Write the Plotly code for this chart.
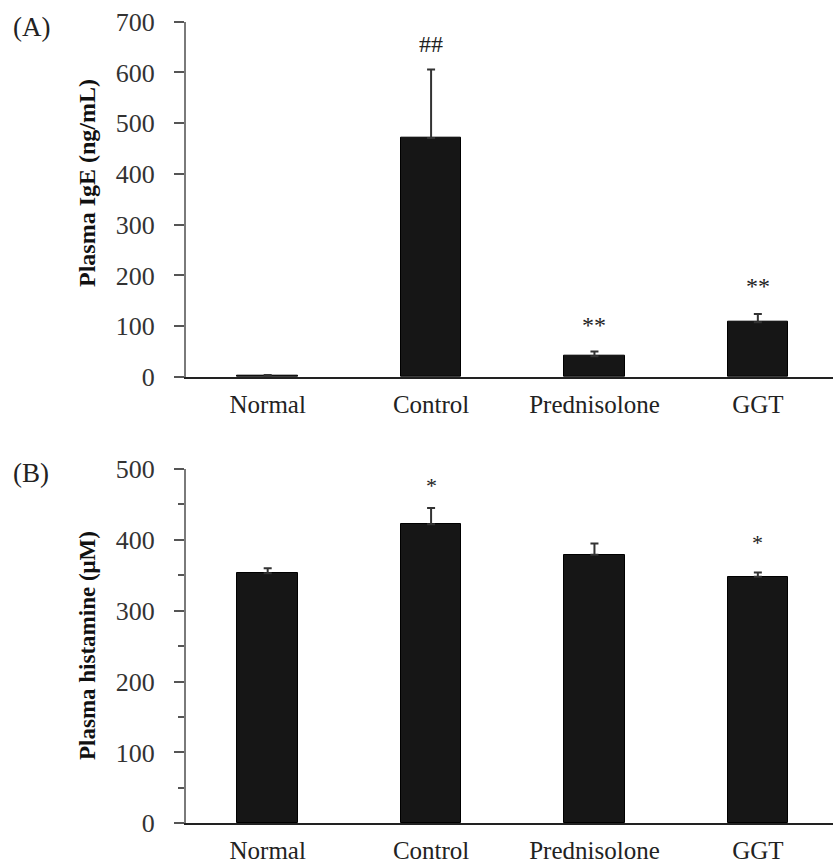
import plotly.graph_objects as go

groups = ["Normal", "Control", "Prednisolone", "GGT"]
ige_mean = [3, 471, 41, 108]
ige_err = [1, 135, 9, 16]
ige_marks = ["", "##", "**", "**"]
ige_mark_y = [0, 657, 102, 179]

hist_mean = [353, 422, 379, 348]
hist_err = [7, 23, 16, 6]
hist_marks = ["", "*", "", "*"]
hist_mark_y = [0, 477, 0, 396]

W, H = 833, 863
FONT = "Liberation Serif"
BAR = "#161616"

fig = go.Figure()

def add_panel(mean, err, xa, ya):
    fig.add_trace(go.Bar(
        x=groups, y=mean, xaxis=xa, yaxis=ya, width=0.37,
        marker=dict(color=BAR, line=dict(color="#000", width=1)),
        error_y=dict(type="data", array=err, arrayminus=[0] * len(err), symmetric=False,
                     color="#333", thickness=2, width=4),
        showlegend=False, hoverinfo="skip"))

add_panel(ige_mean, ige_err, "x", "y")
add_panel(hist_mean, hist_err, "x2", "y2")

xdom = [186 / W, 1.0]
ydomA = [1 - 377 / H, 1 - 21.7 / H]
ydomB = [1 - 823.3 / H, 1 - 469 / H]

xcommon = dict(type="category", range=[-0.5, 3.46], showline=True, linecolor="#222", linewidth=2,
               ticks="", showgrid=False, zeroline=False, automargin=False, ticklabelstandoff=4,
               tickfont=dict(family=FONT, size=25, color="#222"), domain=xdom)
ycommon = dict(showline=True, linecolor="#7a7a7a", linewidth=2, ticks="outside", ticklen=10,
               tickcolor="#555", tickwidth=2, showgrid=False, zeroline=False, automargin=False,
               ticklabelstandoff=14, tickfont=dict(family=FONT, size=26, color="#333"))

annotations = []
for g, m, yv in zip(groups, ige_marks, ige_mark_y):
    if m:
        annotations.append(dict(x=g, y=yv, xref="x", yref="y", text=m, showarrow=False,
                                font=dict(family=FONT, size=24, color="#222")))
for g, m, yv in zip(groups, hist_marks, hist_mark_y):
    if m:
        annotations.append(dict(x=g, y=yv, xref="x2", yref="y2", text=m, showarrow=False,
                                font=dict(family=FONT, size=22, color="#222")))
annotations.append(dict(x=11 / W, y=1 - 27 / H, xref="paper", yref="paper", text="(A)",
                        showarrow=False, xanchor="left", yanchor="middle",
                        font=dict(family=FONT, size=27, color="#222")))
annotations.append(dict(x=11 / W, y=1 - 473 / H, xref="paper", yref="paper", text="(B)",
                        showarrow=False, xanchor="left", yanchor="middle",
                        font=dict(family=FONT, size=27, color="#222")))
annotations.append(dict(x=87 / W, y=1 - 183 / H, xref="paper", yref="paper",
                        text="<b>Plasma IgE (ng/mL)</b>", textangle=-90, showarrow=False,
                        xanchor="center", yanchor="middle",
                        font=dict(family=FONT, size=24, color="#111")))
annotations.append(dict(x=87 / W, y=1 - 646 / H, xref="paper", yref="paper",
                        text="<b>Plasma histamine (μM)</b>", textangle=-90, showarrow=False,
                        xanchor="center", yanchor="middle",
                        font=dict(family=FONT, size=23, color="#111")))

fig.update_layout(
    width=W, height=H, margin=dict(l=0, r=0, t=0, b=0),
    plot_bgcolor="white", paper_bgcolor="white", bargap=0,
    xaxis=dict(**xcommon, anchor="y"),
    xaxis2=dict(**xcommon, anchor="y2"),
    yaxis=dict(**ycommon, domain=ydomA, range=[0, 700], dtick=100, anchor="x"),
    yaxis2=dict(**ycommon, domain=ydomB, range=[0, 500], dtick=100, anchor="x2",
                minor=dict(dtick=50, ticks="outside", ticklen=6, tickcolor="#555", tickwidth=2)),
    annotations=annotations,
)

fig.write_html("out.html", config={"displayModeBar": False},
               post_script="document.body.style.margin='0';")
